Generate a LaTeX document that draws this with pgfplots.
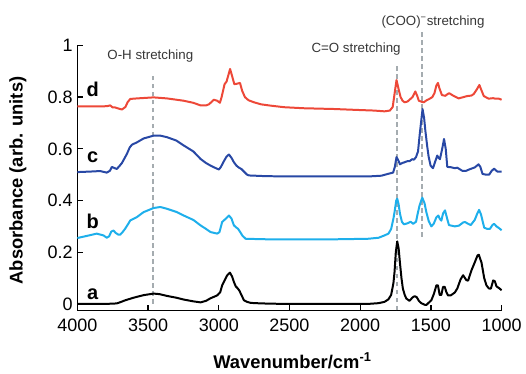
\documentclass[border=0pt]{standalone}
\usepackage{fontspec}
\setmainfont{Liberation Sans}
\usepackage{pgfplots}
\pgfplotsset{compat=1.18}
\definecolor{cd}{RGB}{237,72,56}
\definecolor{cc}{RGB}{40,72,165}
\definecolor{cb}{RGB}{30,175,235}
\definecolor{dg}{RGB}{165,172,176}
\definecolor{tg}{RGB}{55,55,55}
\begin{document}
\begin{tikzpicture}
\begin{axis}[
 scale only axis, width=318.75pt, height=199.1pt,
 xmin=1000, xmax=4000, x dir=reverse, ymin=-0.025, ymax=1,
 axis x line*=bottom, axis y line*=left,
 xtick={1000,1500,2000,2500,3000,3500,4000},
 ytick={0,0.2,0.4,0.6,0.8,1},
 tick align=inside, major tick length=4pt,
 tick style={black, line width=1pt},
 axis line style={black, line width=1.2pt},
 tick label style={font=\fontsize{13.5}{15}\selectfont},
 xticklabel style={yshift=-3pt},
 /pgf/number format/assume math mode=true,
 /pgf/number format/1000 sep={},
 xlabel={\bfseries Wavenumber/cm\textsuperscript{-1}},
 ylabel={\bfseries Absorbance (arb. units)},
 label style={font=\fontsize{13.8}{15}\selectfont},
 xlabel style={at={(axis description cs:0.507,-0.19)}, anchor=center},
 ylabel style={at={(axis description cs:-0.14,0.49)}, anchor=center},
 clip=false,
]
\path (axis description cs:-0.1824,-0.2147) rectangle (axis description cs:1.0565,1.1714);
% dashed guide lines
\addplot[dg, line width=1.3pt, dash pattern=on 3.5pt off 2.5pt] coordinates {(3465,0) (3465,0.89)};
\addplot[dg, line width=1.3pt, dash pattern=on 3.5pt off 2.5pt] coordinates {(1742,-0.025) (1742,0.92)};
\addplot[dg, line width=1.3pt, dash pattern=on 3.5pt off 2.5pt] coordinates {(1563,0.26) (1563,1.05)};
% curve a
\addplot[black, line width=1.5pt, line join=round] coordinates {
(4000,0.000) (3800,0.000) (3721,0.002) (3690,0.008) (3662,0.014) (3603,0.024) (3532,0.034) (3461,0.040) (3420,0.038) (3366,0.031) (3300,0.024) (3248,0.017) (3180,0.010) (3129,0.006) (3090,0.012) (3058,0.022) (3011,0.033) (2990,0.045) (2976,0.072) (2960,0.090) (2940,0.111) (2921,0.121) (2905,0.105) (2893,0.085) (2880,0.068) (2869,0.062) (2855,0.052) (2840,0.035) (2822,0.014) (2800,0.008) (2774,0.004) (2700,0.002) (2538,0.000) (2183,0.000) (1946,0.000) (1870,0.003) (1828,0.008) (1800,0.018) (1781,0.035) (1765,0.080) (1757,0.124) (1748,0.200) (1738,0.242) (1728,0.215) (1719,0.160) (1708,0.100) (1698,0.059) (1685,0.035) (1674,0.021) (1651,0.012) (1630,0.025) (1615,0.030) (1600,0.026) (1585,0.012) (1568,0.003) (1545,-0.003) (1532,-0.004) (1515,0.005) (1497,0.014) (1478,0.040) (1461,0.072) (1450,0.072) (1438,0.035) (1426,0.035) (1414,0.066) (1402,0.066) (1390,0.045) (1379,0.033) (1360,0.033) (1331,0.044) (1313,0.060) (1290,0.095) (1272,0.111) (1249,0.092) (1237,0.090) (1213,0.130) (1194,0.155) (1170,0.188) (1161,0.190) (1142,0.160) (1123,0.100) (1107,0.072) (1090,0.060) (1076,0.059) (1059,0.091) (1048,0.088) (1036,0.068) (1015,0.060) (1000,0.053)
};
% curve b
\addplot[cb, line width=1.5pt, line join=round] coordinates {
(4000,0.255) (3934,0.263) (3863,0.272) (3815,0.265) (3792,0.256) (3775,0.262) (3760,0.280) (3744,0.284) (3730,0.275) (3710,0.268) (3697,0.268) (3680,0.278) (3662,0.291) (3640,0.310) (3626,0.323) (3579,0.336) (3532,0.355) (3461,0.371) (3413,0.375) (3366,0.368) (3300,0.356) (3248,0.342) (3180,0.325) (3129,0.304) (3090,0.290) (3058,0.278) (3011,0.272) (2995,0.278) (2976,0.317) (2950,0.330) (2928,0.342) (2910,0.330) (2893,0.304) (2875,0.295) (2864,0.291) (2845,0.275) (2834,0.265) (2810,0.252) (2656,0.250) (2183,0.250) (1946,0.252) (1870,0.256) (1828,0.265) (1800,0.272) (1781,0.290) (1765,0.330) (1757,0.355) (1745,0.400) (1738,0.407) (1728,0.385) (1719,0.350) (1705,0.318) (1691,0.308) (1665,0.312) (1644,0.318) (1625,0.310) (1605,0.318) (1595,0.345) (1580,0.381) (1561,0.411) (1545,0.390) (1532,0.355) (1515,0.320) (1497,0.300) (1480,0.310) (1461,0.335) (1447,0.342) (1438,0.330) (1426,0.322) (1414,0.350) (1400,0.362) (1385,0.330) (1372,0.305) (1331,0.300) (1301,0.303) (1272,0.315) (1259,0.317) (1237,0.310) (1218,0.305) (1190,0.325) (1170,0.352) (1159,0.364) (1145,0.345) (1123,0.295) (1100,0.290) (1083,0.290) (1065,0.305) (1053,0.310) (1036,0.300) (1015,0.292) (1000,0.285)
};
% curve c
\addplot[cc, line width=1.5pt, line join=round] coordinates {
(4000,0.510) (3910,0.512) (3839,0.514) (3792,0.508) (3770,0.515) (3756,0.530) (3735,0.525) (3721,0.522) (3700,0.535) (3685,0.545) (3665,0.565) (3650,0.580) (3630,0.605) (3614,0.616) (3579,0.625) (3532,0.640) (3461,0.651) (3413,0.651) (3366,0.645) (3300,0.632) (3248,0.613) (3180,0.590) (3129,0.561) (3090,0.545) (3058,0.535) (3020,0.525) (2999,0.520) (2985,0.530) (2968,0.548) (2945,0.570) (2928,0.578) (2910,0.565) (2893,0.548) (2875,0.535) (2857,0.527) (2840,0.522) (2822,0.512) (2800,0.500) (2786,0.497) (2656,0.494) (2183,0.493) (1946,0.493) (1850,0.496) (1804,0.503) (1767,0.508) (1755,0.530) (1743,0.568) (1730,0.555) (1719,0.540) (1703,0.545) (1686,0.548) (1668,0.552) (1651,0.552) (1632,0.560) (1620,0.558) (1605,0.568) (1591,0.590) (1580,0.650) (1572,0.690) (1559,0.754) (1548,0.720) (1539,0.670) (1526,0.610) (1516,0.570) (1502,0.535) (1485,0.525) (1470,0.550) (1455,0.574) (1445,0.565) (1436,0.560) (1420,0.600) (1407,0.638) (1395,0.600) (1384,0.530) (1360,0.529) (1331,0.525) (1313,0.527) (1278,0.515) (1250,0.515) (1230,0.520) (1190,0.528) (1163,0.540) (1150,0.530) (1135,0.503) (1110,0.500) (1088,0.500) (1070,0.515) (1053,0.523) (1030,0.512) (1000,0.512)
};
% curve d
\addplot[cd, line width=1.5pt, line join=round] coordinates {
(4000,0.764) (3900,0.764) (3839,0.764) (3790,0.765) (3768,0.768) (3750,0.760) (3733,0.760) (3710,0.756) (3685,0.752) (3660,0.762) (3645,0.780) (3626,0.793) (3579,0.795) (3520,0.797) (3461,0.799) (3366,0.795) (3300,0.790) (3248,0.786) (3180,0.778) (3129,0.768) (3090,0.768) (3070,0.772) (3050,0.782) (3035,0.790) (3011,0.786) (2992,0.778) (2980,0.800) (2959,0.850) (2945,0.860) (2920,0.909) (2905,0.880) (2890,0.850) (2870,0.852) (2850,0.855) (2835,0.825) (2815,0.800) (2790,0.788) (2751,0.780) (2700,0.772) (2632,0.767) (2538,0.761) (2400,0.757) (2183,0.754) (2000,0.750) (1900,0.748) (1828,0.745) (1790,0.748) (1770,0.762) (1755,0.820) (1743,0.866) (1730,0.835) (1714,0.800) (1700,0.786) (1686,0.780) (1665,0.783) (1651,0.790) (1630,0.800) (1610,0.822) (1597,0.805) (1585,0.786) (1565,0.782) (1550,0.780) (1530,0.788) (1514,0.792) (1490,0.800) (1475,0.815) (1461,0.845) (1450,0.855) (1440,0.835) (1422,0.808) (1398,0.805) (1379,0.813) (1370,0.815) (1340,0.805) (1304,0.795) (1270,0.800) (1245,0.804) (1213,0.806) (1197,0.812) (1175,0.830) (1157,0.847) (1145,0.830) (1126,0.804) (1091,0.794) (1060,0.796) (1045,0.794) (1020,0.794) (1000,0.790)
};
% labels
\node[font=\fontsize{15}{17}\selectfont\bfseries, anchor=base] at (axis cs:3891,0.803) {d};
\node[font=\fontsize{15}{17}\selectfont\bfseries, anchor=base] at (axis cs:3891,0.548) {c};
\node[font=\fontsize{15}{17}\selectfont\bfseries, anchor=base] at (axis cs:3891,0.291) {b};
\node[font=\fontsize{15}{17}\selectfont\bfseries, anchor=base] at (axis cs:3891,0.017) {a};
\node[font=\fontsize{10}{12}\selectfont, text=tg] at (axis cs:3484,0.96) {O-H stretching};
\node[font=\fontsize{10}{12}\selectfont, text=tg] at (axis cs:2029,0.986) {C=O stretching};
\node[font=\fontsize{10}{12}\selectfont, text=tg] at (axis cs:1485,1.09) {(COO)\textsuperscript{−}stretching};
\end{axis}
\end{tikzpicture}
\end{document}
